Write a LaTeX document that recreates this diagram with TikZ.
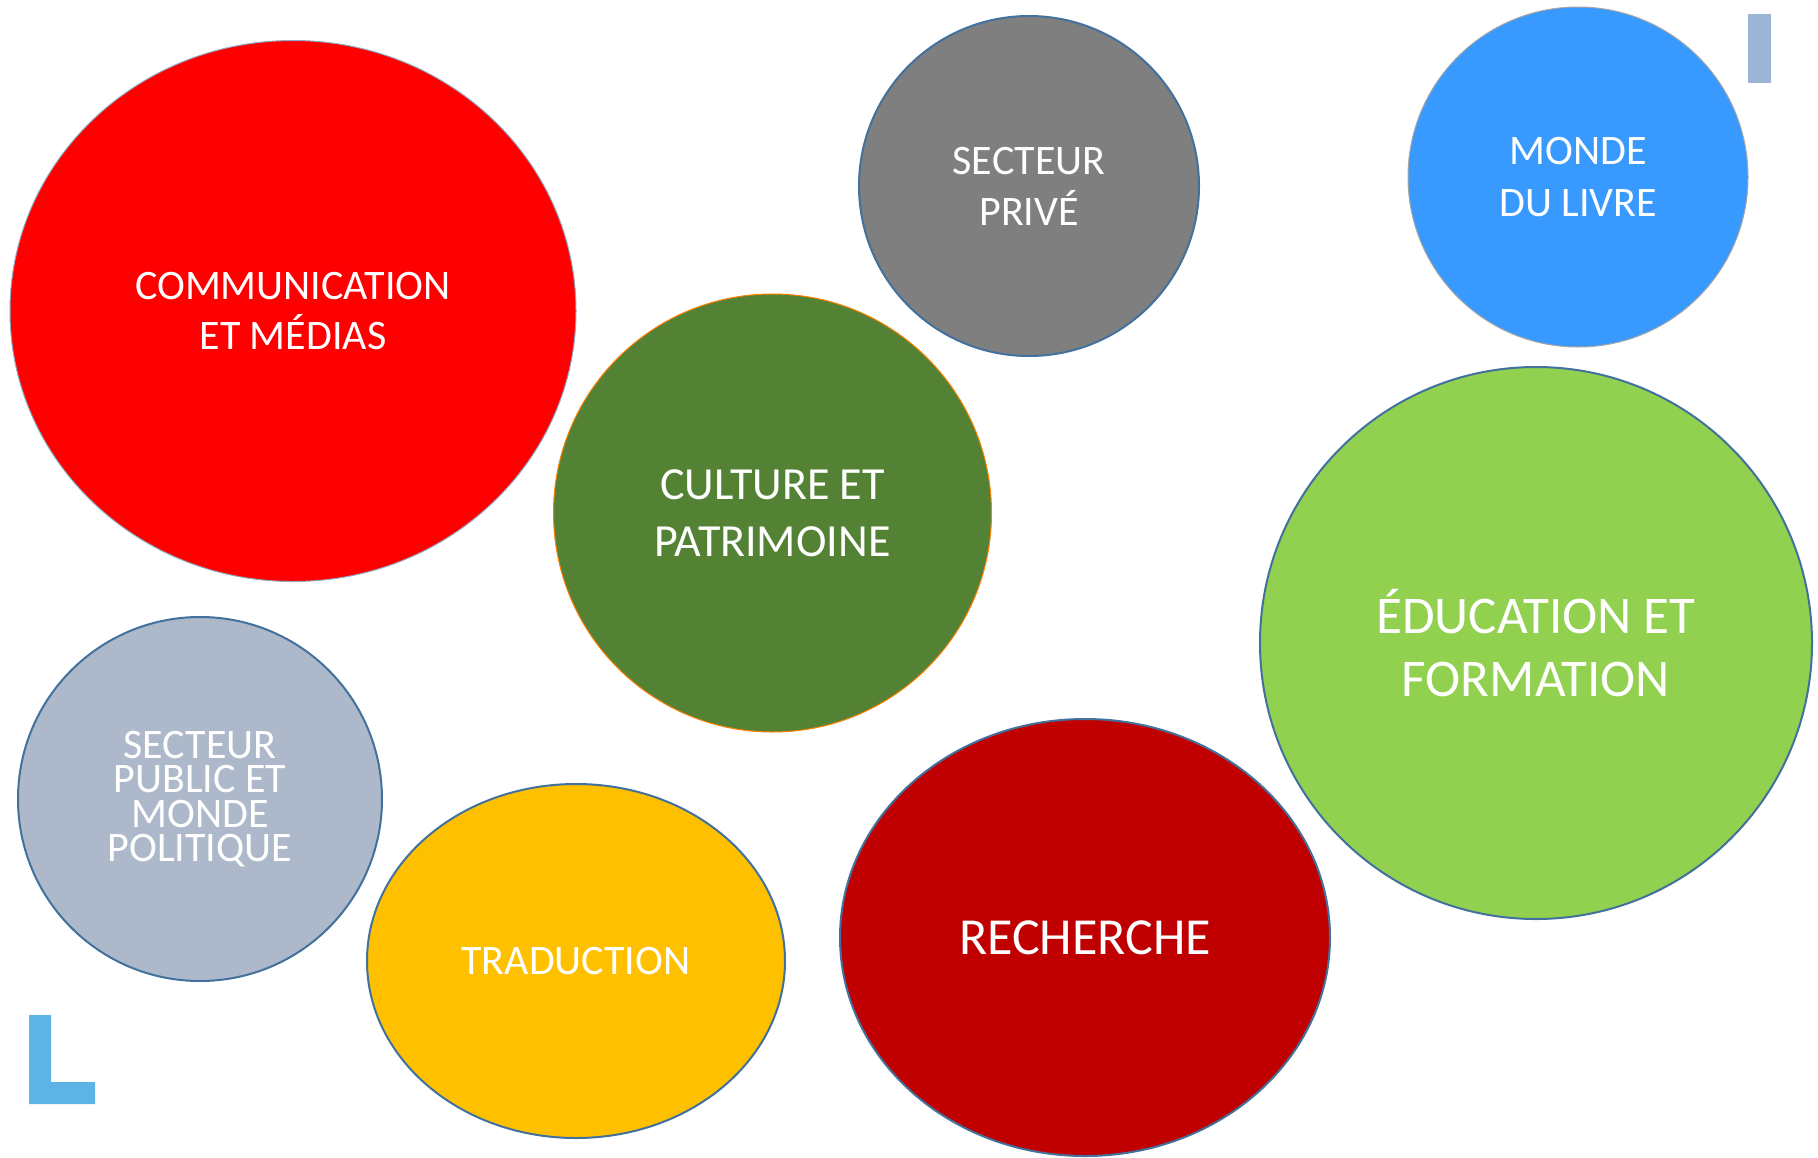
\documentclass[tikz,border=0pt]{standalone}
\usepackage{fontspec}
\setmainfont{Carlito}
\usetikzlibrary{shapes.geometric}
\definecolor{rouge}{HTML}{FF0000}
\definecolor{rougefonce}{HTML}{C00000}
\definecolor{gris}{HTML}{7F7F7F}
\definecolor{bleu}{HTML}{3899FF}
\definecolor{vertfonce}{HTML}{548235}
\definecolor{vertclair}{HTML}{92D050}
\definecolor{grisbleu}{HTML}{ADB9CA}
\definecolor{jaune}{HTML}{FFC000}
\definecolor{contour}{HTML}{41719C}
\definecolor{barre}{HTML}{9DB5D4}
\definecolor{equerre}{HTML}{5DB3E6}
\begin{document}
\begin{tikzpicture}[x=1pt,y=-1pt,
  bulle/.style={ellipse,inner sep=0pt,text=white,align=center,
    draw=contour,line width=2pt,font=\fontsize{42}{51}\selectfont},
  fin/.style={line width=1pt}]
  \useasboundingbox (0,0) rectangle (1818,1157);
  \node[bulle,fill=rouge,draw=contour!60,fin,minimum width=566pt,minimum height=541pt,
    font=\fontsize{42}{50.5}\selectfont] (communication) at (293,311) {COMMUNICATION\\ET MÉDIAS};
  \node[bulle,fill=gris,minimum width=340pt,minimum height=340pt] (prive) at (1029,186) {SECTEUR\\PRIVÉ};
  \node[bulle,fill=bleu,draw=gray!70,fin,minimum width=340pt,minimum height=340pt,
    font=\fontsize{42}{52}\selectfont] (livre) at (1578,177) {MONDE\\DU LIVRE};
  \node[bulle,fill=vertfonce,draw=orange,fin,minimum width=438pt,minimum height=438pt,
    font=\fontsize{46}{57}\selectfont] (culture) at (772.5,513) {CULTURE ET\\PATRIMOINE};
  \node[bulle,fill=vertclair,minimum width=552pt,minimum height=552pt,
    font=\fontsize{53}{63.5}\selectfont] (education) at (1536,643) {ÉDUCATION ET\\FORMATION};
  \node[bulle,fill=grisbleu,minimum width=364pt,minimum height=364pt,
    font=\fontsize{42}{34.5}\selectfont] (public) at (200,799) {SECTEUR\\PUBLIC ET\\MONDE\\POLITIQUE};
  \node[bulle,fill=jaune,minimum width=418pt,minimum height=354pt] (traduction) at (576,961) {TRADUCTION};
  \node[bulle,fill=rougefonce,minimum width=490pt,minimum height=437pt,
    font=\fontsize{52}{62}\selectfont] (recherche) at (1085,937.5) {RECHERCHE};
  \fill[barre] (1748,14) rectangle (1771,83);
  \fill[equerre] (29,1015) -- (51,1015) -- (51,1082) -- (95,1082) -- (95,1104) -- (29,1104) -- cycle;
\end{tikzpicture}
\end{document}
